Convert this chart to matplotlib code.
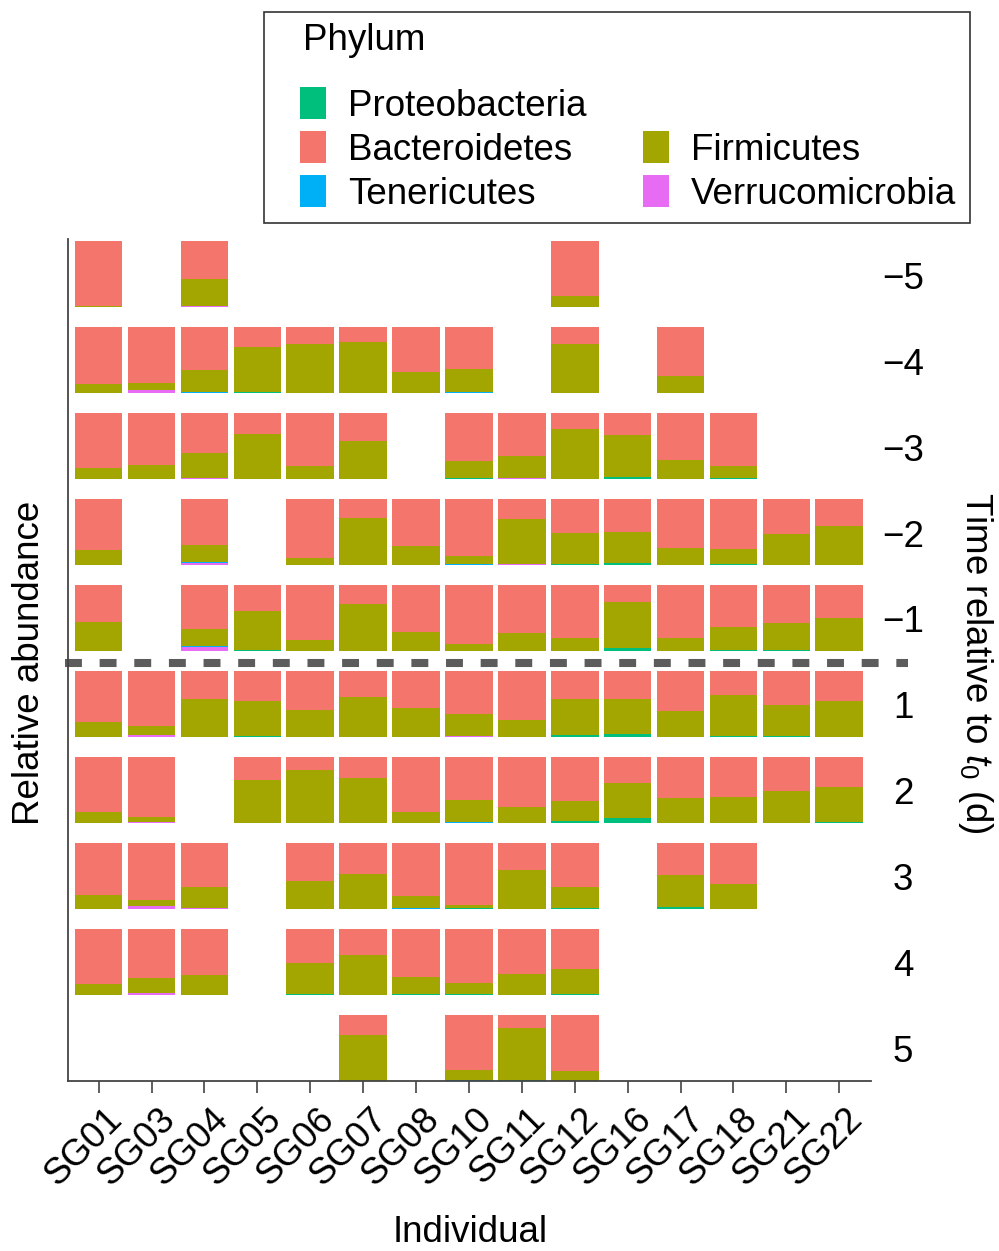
import matplotlib
matplotlib.use('Agg')
import matplotlib.pyplot as plt
from matplotlib.patches import Rectangle
import matplotlib.transforms as mtransforms

plt.rcParams['font.family'] = ['Liberation Sans', 'DejaVu Sans']
plt.rcParams['mathtext.fontset'] = 'custom'
plt.rcParams['mathtext.rm'] = 'Liberation Sans'
plt.rcParams['mathtext.it'] = 'Liberation Sans:italic'

# ---- data ----
individuals = ['SG01', 'SG03', 'SG04', 'SG05', 'SG06', 'SG07', 'SG08', 'SG10',
               'SG11', 'SG12', 'SG16', 'SG17', 'SG18', 'SG21', 'SG22']
times = [-5, -4, -3, -2, -1, 1, 2, 3, 4, 5]

N = None  # no sample
# Firmicutes fraction, one row per time point, one column per individual
firmicutes = [
    [0.01, N, 0.41, N, N, N, N, N, N, 0.17, N, N, N, N, N],
    [0.14, 0.10, 0.335, 0.685, 0.74, 0.78, 0.32, 0.345, N, 0.745, N, 0.26, N, N, N],
    [0.17, 0.21, 0.385, 0.68, 0.19, 0.57, N, 0.255, 0.33, 0.76, 0.64, 0.29, 0.185, N, N],
    [0.23, N, 0.26, N, 0.11, 0.71, 0.29, 0.125, 0.675, 0.475, 0.475, 0.26, 0.23, 0.475, 0.59],
    [0.44, N, 0.25, 0.60, 0.17, 0.71, 0.29, 0.11, 0.28, 0.19, 0.695, 0.19, 0.36, 0.42, 0.50],
    [0.23, 0.13, 0.57, 0.53, 0.41, 0.61, 0.44, 0.34, 0.26, 0.54, 0.52, 0.39, 0.62, 0.48, 0.55],
    [0.16, 0.07, N, 0.65, 0.80, 0.685, 0.16, 0.34, 0.24, 0.30, 0.535, 0.375, 0.40, 0.49, 0.53],
    [0.21, 0.095, 0.315, N, 0.43, 0.53, 0.19, 0.055, 0.59, 0.33, N, 0.475, 0.38, N, N],
    [0.16, 0.215, 0.31, N, 0.48, 0.60, 0.27, 0.16, 0.325, 0.39, N, N, N, N, N],
    [N, N, N, N, N, 0.69, N, 0.15, 0.785, 0.15, N, N, N, N, N],
]

# minor phyla: (time, individual, fraction)
proteobacteria = [
    (-4, 'SG05', 0.015), (-3, 'SG10', 0.015), (-3, 'SG16', 0.03), (-3, 'SG18', 0.015),
    (-2, 'SG12', 0.01), (-2, 'SG16', 0.03), (-2, 'SG18', 0.01),
    (-1, 'SG05', 0.01), (-1, 'SG16', 0.045), (-1, 'SG18', 0.01), (-1, 'SG21', 0.01),
    (1, 'SG05', 0.01), (1, 'SG12', 0.03), (1, 'SG16', 0.05), (1, 'SG18', 0.01), (1, 'SG21', 0.01),
    (2, 'SG12', 0.03), (2, 'SG16', 0.075), (2, 'SG17', 0.005), (2, 'SG22', 0.01),
    (3, 'SG10', 0.01), (3, 'SG12', 0.01), (3, 'SG17', 0.035),
    (4, 'SG06', 0.01), (4, 'SG08', 0.01), (4, 'SG10', 0.02), (4, 'SG12', 0.01),
    (5, 'SG11', 0.015),
]
tenericutes = [
    (-4, 'SG04', 0.015), (-4, 'SG10', 0.015), (-2, 'SG04', 0.015), (-2, 'SG10', 0.015),
    (-1, 'SG04', 0.015), (2, 'SG10', 0.015), (3, 'SG08', 0.01), (5, 'SG10', 0.01),
]
verrucomicrobia = [
    (-5, 'SG04', 0.02), (-4, 'SG03', 0.05), (-3, 'SG04', 0.015), (-3, 'SG11', 0.02),
    (-2, 'SG04', 0.035), (-2, 'SG11', 0.015), (-1, 'SG04', 0.065),
    (1, 'SG03', 0.03), (1, 'SG10', 0.01), (2, 'SG03', 0.02),
    (3, 'SG03', 0.045), (3, 'SG04', 0.015), (4, 'SG03', 0.035),
]

phyla_legend = ['Proteobacteria', 'Bacteroidetes', 'Tenericutes', 'Firmicutes', 'Verrucomicrobia']
colors = {'Proteobacteria': '#00BF7D', 'Bacteroidetes': '#F4756B', 'Tenericutes': '#00B0F6',
          'Firmicutes': '#A3A500', 'Verrucomicrobia': '#E76BF3'}

def lookup(table, t, ind):
    for tt, ii, v in table:
        if tt == t and ii == ind:
            return v
    return 0.0

# ---- figure ----
W, H = 999, 1251
FS = 26.5
fig = plt.figure(figsize=(W / 100, H / 100), dpi=100)
ax = fig.add_axes([68 / W, 1 - 1081 / H, (871 - 68) / W, (1081 - 239) / H])

pitch = 85.9 / 66
n = len(times)
xs = range(1, len(individuals) + 1)
down = mtransforms.ScaledTranslation(0, -0.05, fig.dpi_scale_trans)

for r, t in enumerate(times):
    base = (n - 1 - r) * pitch
    for c, ind in enumerate(individuals):
        f = firmicutes[r][c]
        if f is None:
            continue
        v = lookup(verrucomicrobia, t, ind)
        te = lookup(tenericutes, t, ind)
        p = lookup(proteobacteria, t, ind)
        b = 1 - (v + te + p + f)
        bottom = base
        for name, val in [('Verrucomicrobia', v), ('Tenericutes', te),
                          ('Proteobacteria', p), ('Firmicutes', f), ('Bacteroidetes', b)]:
            if val > 0:
                ax.bar(c + 1, val, bottom=bottom, width=0.9, color=colors[name], lw=0)
            bottom += val
    lab = str(t).replace('-', '\u2212')
    ax.text(1.04, base + 0.5, lab, transform=ax.get_yaxis_transform() + down,
            ha='center', va='center', fontsize=FS)

# dashed divider between pre and post t0
ydiv = ((n - 5) * pitch + (n - 6) * pitch + 1) / 2 - 0.03
ax.plot([0.36, 16.3], [ydiv, ydiv], color='#5c5c5c', lw=5.8, dashes=(2.1, 2.2),
        clip_on=False, solid_capstyle='butt')

ax.set_xlim(0.42, 15.6)
ax.set_ylim(0, (n - 1) * pitch + 1.03)
ax.set_yticks([])
ax.set_xticks(list(xs))
ax.set_xticklabels(individuals, rotation=45, ha='right', va='top', rotation_mode='anchor')
ax.tick_params(axis='x', length=8.5, width=1.1, color='#333333', labelsize=FS, pad=6)
offset = mtransforms.ScaledTranslation(0.06, 0, fig.dpi_scale_trans)
for lbl in ax.get_xticklabels():
    lbl.set_transform(lbl.get_transform() + offset)
for s in ['top', 'right']:
    ax.spines[s].set_visible(False)
for s in ['left', 'bottom']:
    ax.spines[s].set_color('#444444')
    ax.spines[s].set_linewidth(1.3)

# axis titles
fig.text(30 / W, 1 - 663 / H, 'Relative abundance', rotation=90, ha='center', va='center', fontsize=FS)
fig.text(470 / W, 1 - 1232 / H, 'Individual', ha='center', va='center', fontsize=FS)
fig.text(975 / W, 1 - 663 / H, r'Time relative to $t_0$ (d)', rotation=270,
         ha='center', va='center', fontsize=FS)

# legend box (two columns, first slot of column two left empty)
fig.patches.append(Rectangle((264 / W, 1 - 223 / H), 706 / W, 211 / H, transform=fig.transFigure,
                             fill=False, ec='#333333', lw=1.2))
fig.text(303 / W, 1 - 41 / H, 'Phylum', ha='left', va='center', fontsize=FS)
slots = [(300, 103), (300, 147), (300, 191), (643, 147), (643, 191)]
for name, (kx, ky) in zip(phyla_legend, slots):
    fig.patches.append(Rectangle((kx / W, 1 - (ky + 15.5) / H), 26 / W, 31 / H,
                                 transform=fig.transFigure, color=colors[name], lw=0))
    fig.text((kx + 48) / W, 1 - (ky + 3) / H, name, ha='left', va='center', fontsize=FS)

fig.savefig('out.png', dpi=100)
